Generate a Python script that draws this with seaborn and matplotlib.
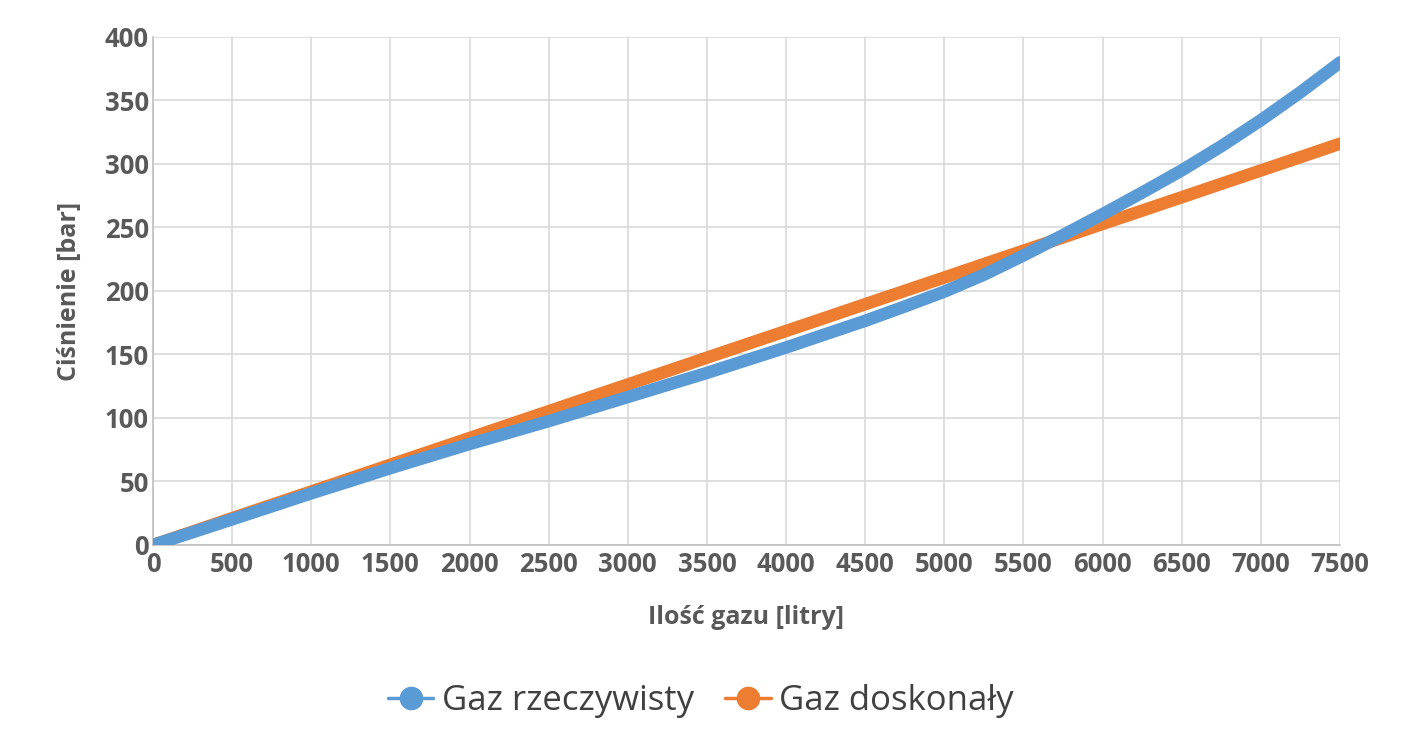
import matplotlib
matplotlib.use("Agg")
import matplotlib.pyplot as plt
from matplotlib.lines import Line2D
import seaborn as sns
import pandas as pd

# Data
ilosc_gazu = [0, 250, 500, 750, 1000, 1250, 1500, 1750, 2000, 2250, 2500, 2750,
              3000, 3250, 3500, 3750, 4000, 4250, 4500, 4750, 5000, 5250, 5500,
              5750, 6000, 6250, 6500, 6750, 7000, 7250, 7500]
gaz_rzeczywisty = [0, 10, 20.2, 30.4, 40.7, 50.5, 60.5, 70, 79.5, 88.5, 97.5, 107,
                   116.5, 126, 135.5, 145.5, 155.5, 166, 176.5, 187.8, 199.5, 212.8, 228,
                   244, 260.5, 277.5, 295, 314, 334.5, 356.5, 380]
gaz_doskonaly = [0, 10.5, 21.1, 31.6, 42.1, 52.6, 63.2, 73.7, 84.2, 94.8, 105.3, 115.9,
                 126.4, 136.9, 147.5, 158, 168.5, 179, 189.6, 200.1, 210.6, 221.2, 231.7,
                 242.2, 252.8, 263.3, 273.8, 284.4, 294.9, 305.4, 316]
series_names = ["Gaz rzeczywisty", "Gaz doskonały"]
x_ticks = list(range(0, 7501, 500))
y_ticks = list(range(0, 401, 50))

BLUE = "#5b9bd5"
ORANGE = "#ed7d31"
TXT = "#595959"

sns.set_theme(style="white")
plt.rcParams['font.family'] = ['Open Sans', 'DejaVu Sans']

df = pd.DataFrame({
    "x": ilosc_gazu * 2,
    "y": gaz_rzeczywisty + gaz_doskonaly,
    "seria": [series_names[0]] * len(ilosc_gazu) + [series_names[1]] * len(ilosc_gazu),
})

fig = plt.figure(figsize=(14.02, 7.44), dpi=100)
ax = fig.add_axes([0.1091, 0.2675, 0.8467, 0.6828])

sns.lineplot(data=df[df.seria == series_names[1]], x="x", y="y", color=ORANGE,
             linewidth=9, solid_capstyle="round", ax=ax, zorder=3, legend=False)
sns.lineplot(data=df[df.seria == series_names[0]], x="x", y="y", color=BLUE,
             linewidth=9, solid_capstyle="round", ax=ax, zorder=4, legend=False)

ax.set_xlim(0, 7500)
ax.set_ylim(0, 400)
ax.set_xticks(x_ticks)
ax.set_yticks(y_ticks)
ax.set_xticklabels([str(t) for t in x_ticks])
ax.set_yticklabels([str(t) for t in y_ticks])
ax.grid(True, color="#d9d9d9", linewidth=1.2, zorder=0)
ax.set_axisbelow(True)
for s in ["top", "right"]:
    ax.spines[s].set_visible(False)
for s in ["left", "bottom"]:
    ax.spines[s].set_color("#bfbfbf")
    ax.spines[s].set_linewidth(1.2)
ax.tick_params(axis="both", length=0, labelsize=18.5, labelcolor=TXT)
ax.tick_params(axis="x", pad=4)
ax.tick_params(axis="y", pad=3)
for lbl in ax.get_xticklabels() + ax.get_yticklabels():
    lbl.set_fontweight("bold")

ax.set_xlabel("Ilość gazu [litry]", fontsize=18, fontweight="bold", color=TXT, labelpad=20)
ax.set_ylabel("Ciśnienie [bar]", fontsize=18, fontweight="bold", color=TXT, labelpad=16)

handles = [
    Line2D([0], [0], color=BLUE, marker="o", markersize=16, linewidth=2.5),
    Line2D([0], [0], color=ORANGE, marker="o", markersize=16, linewidth=2.5),
]
leg = fig.legend(handles, series_names, loc="center", bbox_to_anchor=(0.5, 0.058),
                 ncol=2, frameon=False, fontsize=25, handlelength=1.3,
                 handletextpad=0.25, columnspacing=0.9)
for t in leg.get_texts():
    t.set_color("#404040")

fig.savefig("out.png", dpi=100, facecolor="white")
